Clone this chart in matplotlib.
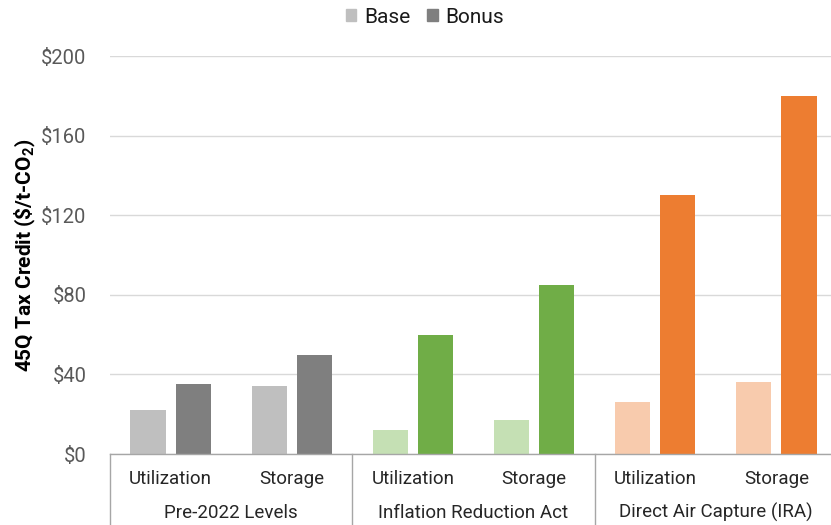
import matplotlib
matplotlib.use("Agg")
import matplotlib.pyplot as plt
import matplotlib.transforms as mtransforms
from matplotlib.patches import Patch
import numpy as np

plt.rcParams["font.family"] = ["Roboto", "DejaVu Sans"]
plt.rcParams["mathtext.fontset"] = "custom"
plt.rcParams["mathtext.rm"] = "Roboto"
plt.rcParams["mathtext.bf"] = "Roboto:bold"

groups = ["Pre-2022 Levels", "Inflation Reduction Act", "Direct Air Capture (IRA)"]
categories = ["Utilization", "Storage"]
base = [22, 34, 12, 17, 26, 36]
bonus = [35, 50, 60, 85, 130, 180]

base_colors = ["#BFBFBF", "#BFBFBF", "#C5E0B4", "#C5E0B4", "#F8CBAD", "#F8CBAD"]
bonus_colors = ["#7F7F7F", "#7F7F7F", "#70AD47", "#70AD47", "#ED7D31", "#ED7D31"]

fig = plt.figure(figsize=(8.31, 5.25), dpi=100)
ax = fig.add_axes([110 / 831, 71 / 525, 727 / 831, 398 / 525])

x = np.arange(len(base))
w = 0.29
off = 0.186
ax.bar(x - off, base, w, color=base_colors, zorder=2)
ax.bar(x + off, bonus, w, color=bonus_colors, zorder=2)

ax.set_xlim(-0.5, 5.5)
ax.set_ylim(0, 200)
yt = [0, 40, 80, 120, 160, 200]
ax.set_yticks(yt)
ax.set_yticklabels(["$" + str(v) for v in yt], fontsize=14.5, color="#595959")
ax.tick_params(axis="y", length=0, pad=17)
ax.grid(axis="y", color="#D9D9D9", linewidth=1, zorder=0)
ax.set_axisbelow(True)
for s in ["top", "right", "left"]:
    ax.spines[s].set_visible(False)
ax.spines["bottom"].set_color("#A6A6A6")
ax.spines["bottom"].set_linewidth(1)

ax.set_xticks([])
trans = mtransforms.blended_transform_factory(ax.transData, ax.transAxes)
for i, c in enumerate(categories * len(groups)):
    ax.text(i, -0.062, c, transform=trans, ha="center", va="center", fontsize=13.5, color="#262626")
for g, name in enumerate(groups):
    ax.text(2 * g + 0.5, -0.148, name, transform=trans, ha="center", va="center", fontsize=13.5, color="#262626")
for xs in [-0.5, 1.5, 3.5]:
    ax.plot([xs, xs], [0, -0.18], transform=trans, color="#A6A6A6", linewidth=1, clip_on=False)

ax.set_ylabel(r"45Q Tax Credit (\$/t-CO$_\mathbf{2}$)", fontsize=15, fontweight="bold", color="black", labelpad=2)

handles = [Patch(color="#BFBFBF", label="Base"), Patch(color="#7F7F7F", label="Bonus")]
fig.legend(handles=handles, loc="center", bbox_to_anchor=(425 / 831, 1 - 17 / 525), ncol=2,
           frameon=False, fontsize=15, handlelength=0.5, handleheight=0.5, handletextpad=0.38,
           columnspacing=0.82, labelcolor="#1A1A1A")

fig.savefig("out.png", dpi=100)
